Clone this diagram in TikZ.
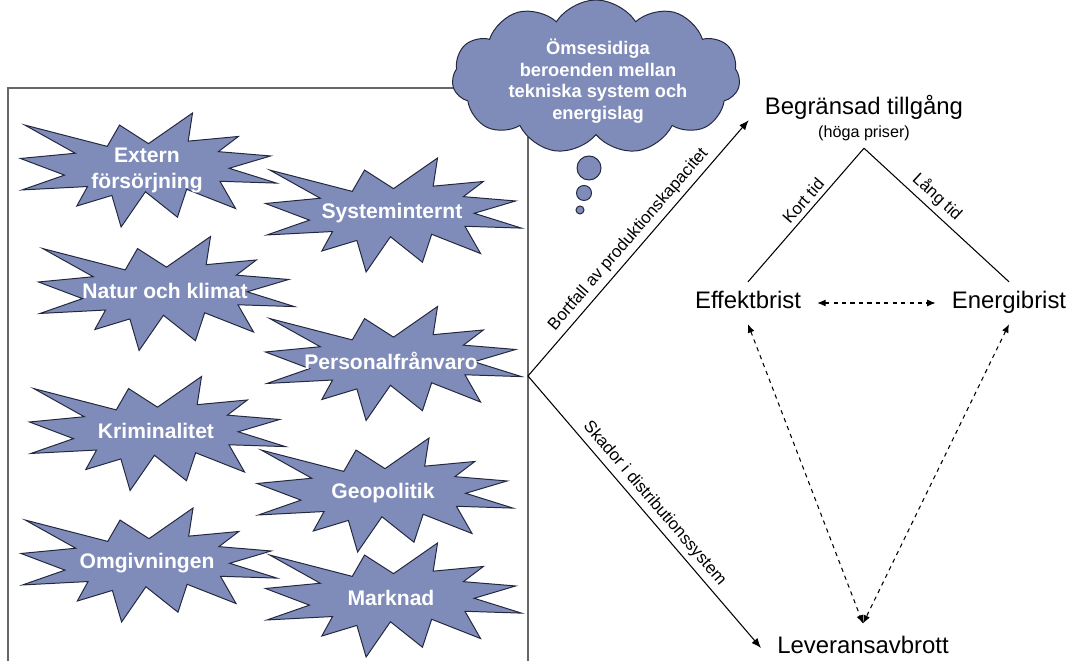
\documentclass[tikz,border=0pt]{standalone}
\usepackage{fontspec}
\setmainfont{Liberation Sans}
\usetikzlibrary{shapes.symbols, positioning, arrows.meta}
\definecolor{burstblue}{RGB}{127,140,185}
\definecolor{burstedge}{RGB}{35,40,62}
\tikzset{
>={Latex[length=7pt, width=5.5pt]}, % filled arrow heads
burst/.style={fill=burstblue, draw=burstedge, line width=0.7pt}, % fill and border of the blue shapes
bursttext/.style={text=white, font=\bfseries\fontsize{15}{18.5}\selectfont, align=center},
explosion/.pic={
  \filldraw[burst, x=6.4cm, y=-2.85cm] (0,-0.231) -- (0.172,-0.5) -- (0.155,-0.253) -- (0.351,-0.294)
    -- (0.273,-0.161) -- (0.477,-0.123) -- (0.315,-0.015) -- (0.5,0.115) -- (0.279,0.099)
    -- (0.34,0.338) -- (0.149,0.169) -- (0.113,0.414) -- (-0.012,0.191) -- (-0.107,0.5)
    -- (-0.143,0.223) -- (-0.28,0.316) -- (-0.238,0.145) -- (-0.494,0.175) -- (-0.328,0.045)
    -- (-0.5,-0.101) -- (-0.286,-0.147) -- (-0.483,-0.394) -- (-0.161,-0.207) -- (-0.113,-0.394) -- cycle;
},
lbl/.style={font=\fontsize{17}{20}\selectfont, text height=12pt, text depth=3.5pt, inner xsep=0.4cm, inner ysep=0.25cm},
edgelabel/.style={font=\fontsize{12}{14}\selectfont, sloped, above},
flow/.style={->, line width=0.75pt},
link/.style={<->, dashed, line width=0.75pt, >={Latex[length=6pt, width=5pt]}},
boxline/.style={draw=black!60, line width=1pt},
}
\begin{document}
\begin{tikzpicture}[x=0.025cm, y=-0.025cm]
    \useasboundingbox (0,0) rectangle (1072,661);
    \draw[boxline] (8,661) -- (8,88) -- (528,88) -- (528,661);
    \coordinate (fork) at (528,376);

    \pic at (148.5,170) {explosion};
    \pic at (393.5,215) {explosion};
    \pic at (166.5,293.5) {explosion};
    \pic at (393.5,363.5) {explosion};
    \pic at (157.5,433.5) {explosion};
    \pic at (385,495) {explosion};
    \pic at (149,565) {explosion};
    \pic at (393.5,600) {explosion};
    \node[bursttext] (extern) at (147,170) {Extern\\försörjning};
    \node[bursttext] (intern) at (392,213) {Systeminternt};
    \node[bursttext] (natur) at (165,291) {Natur och klimat};
    \node[bursttext] (personal) at (391,361) {Personalfrånvaro};
    \node[bursttext] (krim) at (156,431) {Kriminalitet};
    \node[bursttext] (geo) at (383,493) {Geopolitik};
    \node[bursttext] (omgiv) at (147,563) {Omgivningen};
    \node[bursttext] (marknad) at (391,598) {Marknad};

    \node[cloud, burst, cloud puffs=11, cloud puff arc=115, cloud ignores aspect,
          minimum width=7.2cm, minimum height=3.85cm] (thought) at (596,77) {};
    \node[text=white, font=\bfseries\fontsize{13}{15.4}\selectfont, align=center] (thoughttext)
        at (598,81) {Ömsesidiga\\beroenden mellan\\tekniska system och\\energislag};
    \node[circle, burst, minimum size=0.6cm, inner sep=0pt] (bubbleA) at (589,168) {};
    \node[circle, burst, minimum size=0.375cm, inner sep=0pt] (bubbleB) at (584,193) {};
    \node[circle, burst, minimum size=0.2cm, inner sep=0pt] (bubbleC) at (580,210) {};

    \node[lbl, inner ysep=0pt] (begr) at (864,109) {Begränsad tillgång};
    \node[font=\fontsize{11.5}{14}\selectfont, text height=8.5pt, text depth=2.5pt, inner ysep=0.18cm] (prices) at (864,133) {(höga priser)};
    \node[lbl] (effekt) at (748,303) {Effektbrist};
    \node[lbl] (energi) at (1009,303) {Energibrist};
    \node[lbl, inner ysep=0.33cm] (lev) at (863,648) {Leveransavbrott};

    \draw[flow] (fork) -- (begr.south west) node[edgelabel, midway] {Bortfall av produktionskapacitet};
    \draw[flow] (fork) -- (lev.west) node[edgelabel, midway] {Skador i distributionssystem};
    \draw[line width=0.75pt] (effekt.north) -- (prices.south) node[edgelabel, pos=0.55] {Kort tid};
    \draw[line width=0.75pt] (prices.south) -- (energi.north) node[edgelabel, pos=0.44] {Lång tid};
    \draw[link] (effekt) -- (energi);
    \draw[link] (effekt.south) -- (lev.north);
    \draw[link] (energi.south) -- (lev.north);
\end{tikzpicture}
\end{document}
